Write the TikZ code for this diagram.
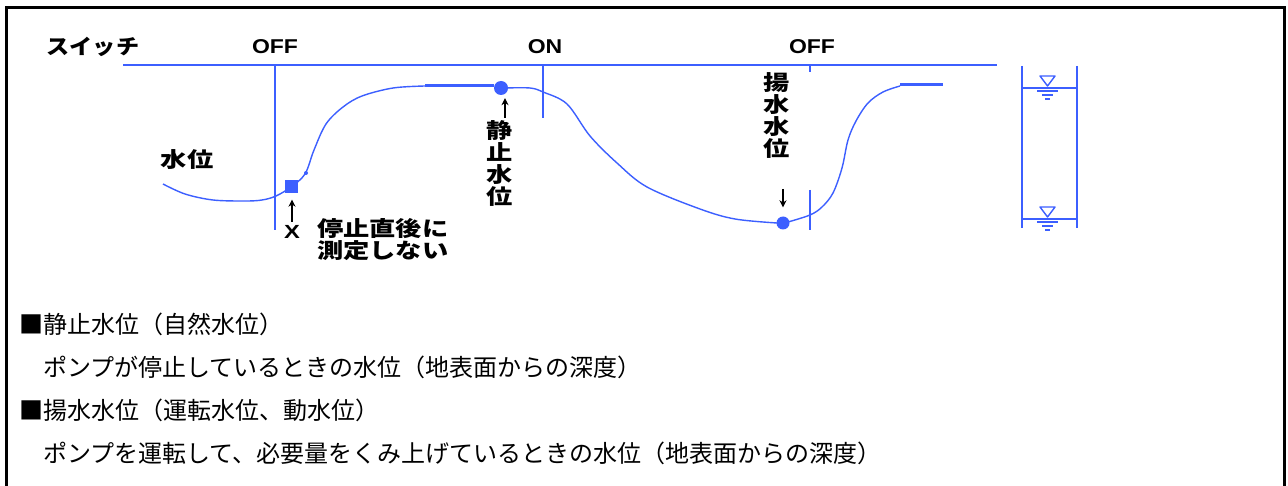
\documentclass[tikz,border=0pt]{standalone}
\usepackage{fontspec}
\usepackage{graphicx}
\setmainfont{Liberation Sans}
\newfontfamily\jp{Noto Sans CJK JP}
\usetikzlibrary{arrows.meta}
\definecolor{wblue}{RGB}{60,95,255}
\newcommand\widen[2][1.25]{\scalebox{#1}[1]{#2}}
\begin{document}
\begin{tikzpicture}[x=1pt,y=-1pt,
  frameline/.style={line width=2.5pt,black},
  axisline/.style={wblue,line width=2pt},
  curveline/.style={wblue,line width=1.4pt},
  flatline/.style={wblue,line width=3pt},
  lbl/.style={font=\jp\bfseries\fontsize{21}{22}\selectfont,inner sep=0pt,align=center},
  swl/.style={font=\bfseries\fontsize{20}{20}\selectfont,inner sep=0pt},
  body/.style={font=\jp\fontsize{24}{24}\selectfont,inner sep=0pt,anchor=west},
  arr/.style={-{Stealth[length=7pt,width=7pt]},line width=2.4pt,black},
  tankline/.style={wblue,line width=1.4pt}]
\useasboundingbox (0,0) rectangle (1288,486);
\fill[white] (0,0) rectangle (1288,486);
% frame
\draw[frameline] (6.5,495) -- (6.5,7.5) -- (1284.5,7.5) -- (1284.5,495);

% switch labels
\node[lbl] (sw) at (93,47) {\widen[1.1]{スイッチ}};
\node[swl] (off1) at (275,47) {\widen[1.15]{OFF}};
\node[swl] (on) at (545,47) {\widen[1.15]{ON}};
\node[swl] (off2) at (812,47) {\widen[1.15]{OFF}};

% axis and switch lines
\draw[axisline] (123,65) -- (997,65);
\draw[axisline] (275,65) -- (275,230);
\draw[axisline] (543,65) -- (543,118);
\draw[axisline] (810,65) -- (810,72);
\draw[axisline] (810,190) -- (810,230);

% water level curve
\draw[curveline] plot[smooth,tension=0.55] coordinates {(163,184) (185,194) (213,200) (245,201) (262,200) (276,196) (291,187) (305,174) (314,150) (326,124) (343,107) (362,96) (393,88) (425,86)};
\draw[flatline] (425,86) -- (494,86);
\draw[curveline] plot[smooth,tension=0.55] coordinates {(505,88) (530,88) (543,92) (567,104) (590,136) (617,163) (647,187) (700,209) (735,219) (777,223)};
\draw[curveline] plot[smooth,tension=0.55] coordinates {(788,222) (810,215) (822,207) (833,193) (842,168) (848,140) (856,121) (868,103) (883,92) (900,86)};
\draw[flatline] (900,85) -- (943,85);

% markers
\node[fill=wblue,minimum size=13pt,inner sep=0pt] (sq) at (291,187) {};
\fill[wblue] (306,173) circle (2pt);
\node[fill=wblue,circle,minimum width=14pt,inner sep=0pt] (sd) at (501,88) {};
\node[fill=wblue,circle,minimum width=13pt,inner sep=0pt] (pd) at (783,223) {};

% labels
\node[lbl] (wl) at (187,160) {\widen{水位}};
\node[swl,font=\bfseries\fontsize{19}{19}\selectfont] (xl) at (292,232) {\widen[1.25]{X}};
\node[lbl,anchor=north west,align=left] (nm) at (317,218) {\widen{停止直後に}\\\widen{測定しない}};
\node[lbl,anchor=north] (st) at (500,120) {\widen{静}\\\widen{止}\\\widen{水}\\\widen{位}};
\node[lbl,anchor=north] (pu) at (777,72) {\widen{揚}\\\widen{水}\\\widen{水}\\\widen{位}};

% arrows
\coordinate (xa) at (292,222);
\draw[arr,shorten >=6pt] (xa) -- (xa |- sq.south);
\coordinate (sa) at (505,118);
\draw[arr,shorten >=3pt] (sa) -- (sa |- sd.south);
\coordinate (pa) at (783,189);
\draw[arr,shorten >=9pt] (pa) -- (pa |- pd.north);

% well / tank
\draw[tankline] (1022,66) -- (1022,228);
\draw[tankline] (1077,66) -- (1077,228);
\foreach \wy in {88,219}{
  \draw[tankline] (1022,\wy) -- (1077,\wy);
  \draw[tankline,line join=round] (1040,\wy-12) -- (1055,\wy-12) -- (1047.5,\wy-2) -- cycle;
  \draw[tankline] (1037,\wy+3) -- (1058,\wy+3);
  \draw[tankline] (1042,\wy+7) -- (1053,\wy+7);
  \draw[tankline] (1045,\wy+11) -- (1050,\wy+11);
}

% description text
\node[body] (t1) at (19,324) {■静止水位（自然水位）};
\node[body] (t2) at (43,367) {ポンプが停止しているときの水位（地表面からの深度）};
\node[body] (t3) at (19,410) {■揚水水位（運転水位、動水位）};
\node[body] (t4) at (43,453) {ポンプを運転して、必要量をくみ上げているときの水位（地表面からの深度）};
\end{tikzpicture}
\end{document}
